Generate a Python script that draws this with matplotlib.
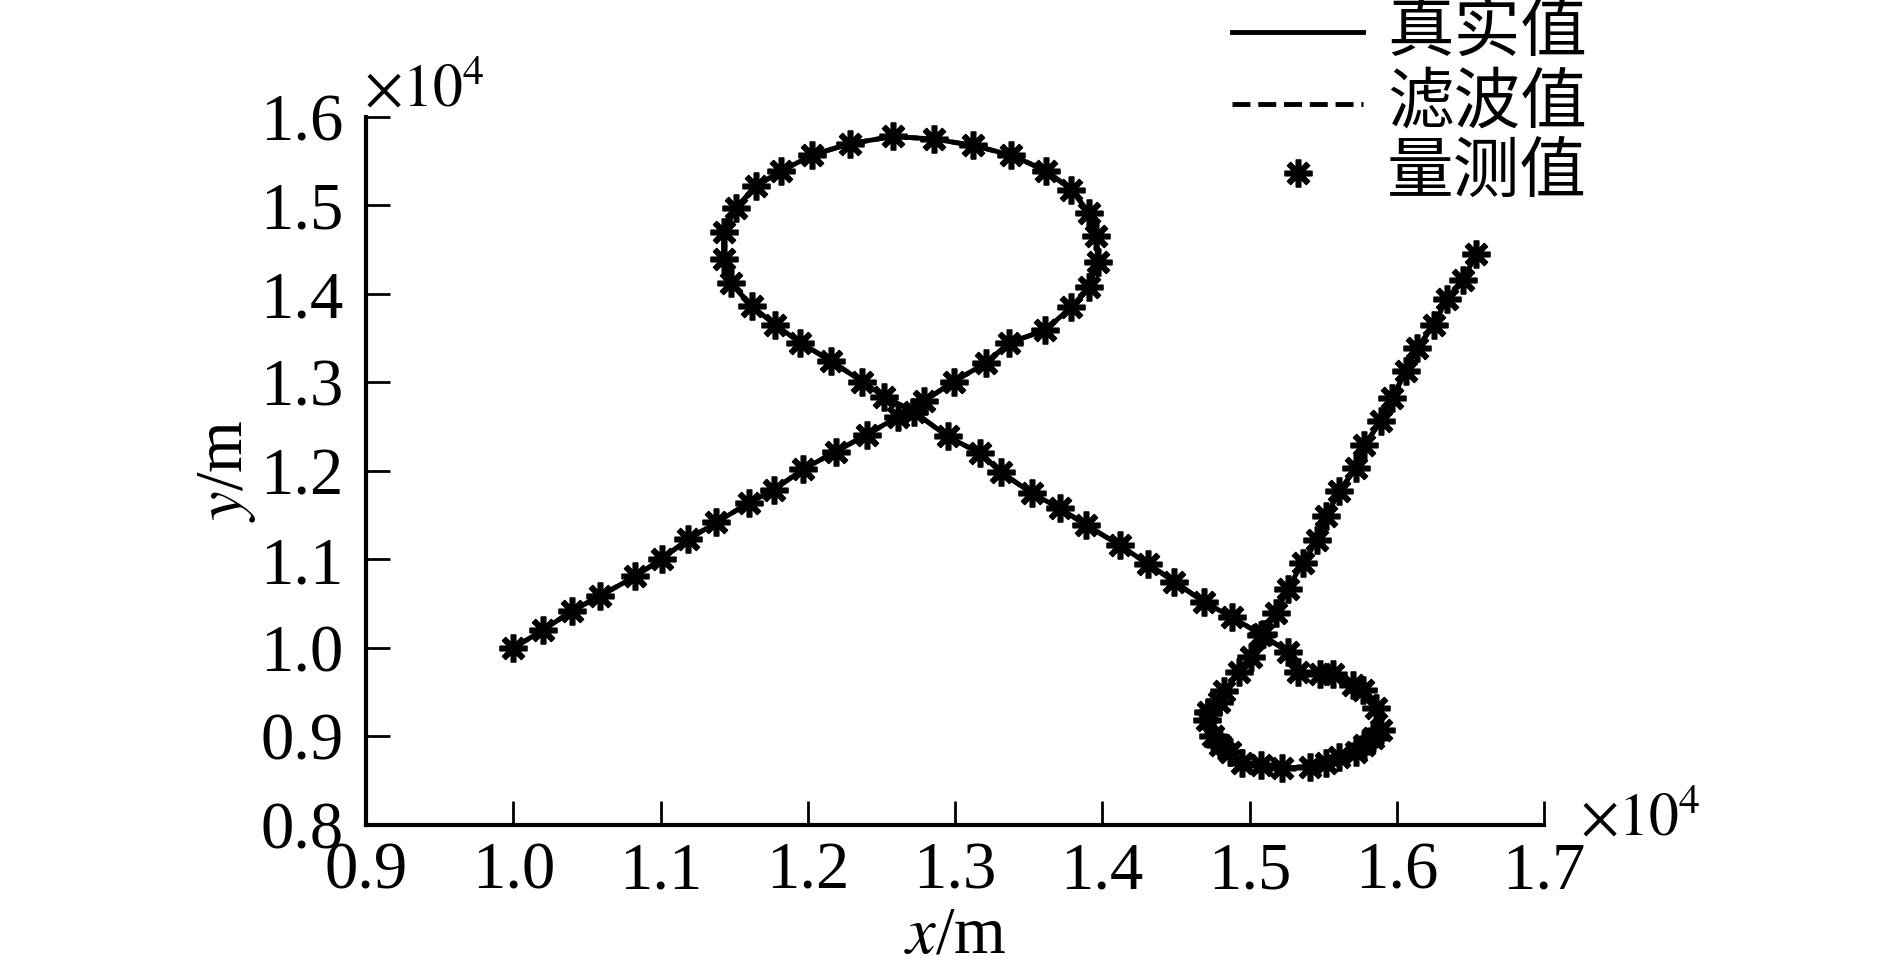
import matplotlib.pyplot as plt
from matplotlib.lines import Line2D

# track coordinates (m)
x_true = [10000, 10200, 10400, 10590, 10830, 11010, 11190, 11380, 11600, 11770,
          11970, 12190, 12400, 12610, 12790, 12990, 13210, 13370, 13610, 13790,
          13910, 13970, 13960, 13910, 13790, 13620, 13380, 13120, 12860, 12580,
          12290, 12030, 11820, 11650, 11510, 11430, 11430, 11480, 11620, 11780,
          11950, 12160, 12370, 12520, 12720, 12950, 13170, 13310, 13520, 13710,
          13890, 14120, 14310, 14490, 14690, 14880, 15080, 15260, 15330, 15480,
          15570, 15700, 15770, 15860, 15890, 15840, 15780, 15720, 15610, 15520,
          15410, 15220, 15080, 14950, 14870, 14800, 14750, 14710, 14720, 14790,
          14830, 14930, 15010, 15090, 15180, 15260, 15360, 15460, 15520, 15610,
          15720, 15780, 15890, 15970, 16060, 16140, 16250, 16340, 16450, 16540]
y_true = [10000, 10200, 10420, 10590, 10810, 11010, 11230, 11420, 11640, 11790,
          12020, 12220, 12410, 12610, 12790, 13010, 13220, 13450, 13590, 13850,
          14080, 14360, 14650, 14920, 15180, 15390, 15570, 15680, 15750, 15780,
          15700, 15570, 15390, 15220, 14970, 14700, 14400, 14120, 13860, 13650,
          13450, 13240, 13010, 12840, 12670, 12390, 12200, 11990, 11750, 11580,
          11390, 11160, 10950, 10750, 10520, 10350, 10150, 9960, 9730, 9710,
          9710, 9580, 9530, 9320, 9070, 8980, 8900, 8830, 8770, 8700,
          8660, 8640, 8680, 8700, 8830, 8900, 9000, 9190, 9280, 9390,
          9510, 9730, 9900, 10160, 10390, 10670, 10960, 11220, 11490, 11770,
          12030, 12290, 12560, 12820, 13130, 13390, 13650, 13940, 14160, 14450]

# filtered estimate and measurements sit on top of the true track at this scale
x_filt, y_filt = x_true, y_true
x_meas, y_meas = x_true, y_true

x_ticks = [9000, 10000, 11000, 12000, 13000, 14000, 15000, 16000, 17000]
x_tick_labels = ["0.9", "1.0", "1.1", "1.2", "1.3", "1.4", "1.5", "1.6", "1.7"]
y_ticks = [8000, 9000, 10000, 11000, 12000, 13000, 14000, 15000, 16000]
y_tick_labels = ["0.8", "0.9", "1.0", "1.1", "1.2", "1.3", "1.4", "1.5", "1.6"]

legend_labels = ["真实值", "滤波值", "量测值"]

plt.rcParams['font.family'] = ['Liberation Serif', 'Noto Sans CJK SC']
plt.rcParams['mathtext.fontset'] = 'stix'

W, H = 1889, 964
fig = plt.figure(figsize=(W / 100, H / 100), dpi=100)
ax = fig.add_axes([366 / W, 1 - 825 / H, (1544 - 366) / W, (825 - 117) / H])

star = (8, 2, 0)
ax.plot(x_true, y_true, color='black', lw=3.5, zorder=2)
ax.plot(x_filt, y_filt, color='black', lw=3.5, ls='--', zorder=3)
ax.plot(x_meas, y_meas, ls='none', marker=star, ms=20, mew=4, color='black', zorder=4)

ax.set_xlim(9000, 17000)
ax.set_ylim(8000, 16000)
ax.set_xticks(x_ticks)
ax.set_xticklabels(x_tick_labels)
ax.set_yticks(y_ticks)
ax.set_yticklabels(y_tick_labels)

for s in ['top', 'right']:
    ax.spines[s].set_visible(False)
for s in ['left', 'bottom']:
    ax.spines[s].set_linewidth(3)

ax.tick_params(direction='in', length=17, width=2, labelsize=48)
ax.tick_params(axis='x', pad=12)
ax.tick_params(axis='y', pad=16)

ax.set_xlabel('$x$/m', fontsize=48, labelpad=2)
ax.set_ylabel('$y$/m', fontsize=48, labelpad=2)

# x10^4 multipliers
fig.text(364 / W, 1 - 106 / H, r'$\times10^{4}$', fontsize=43, va='baseline', ha='left')
fig.text(1580 / W, 1 - 835 / H, r'$\times10^{4}$', fontsize=43, va='baseline', ha='left')

# legend drawn by hand to match the reference layout
rows = [32, 104, 173]
x0, x1, xt = 1232, 1363, 1387
fig.add_artist(Line2D([x0 / W, x1 / W], [1 - rows[0] / H] * 2, transform=fig.transFigure,
                      color='black', lw=3.5))
fig.add_artist(Line2D([x0 / W, x1 / W], [1 - rows[1] / H] * 2, transform=fig.transFigure,
                      color='black', lw=3.5, ls='--'))
fig.add_artist(Line2D([(x0 + x1) / 2 / W], [1 - rows[2] / H], transform=fig.transFigure,
                      ls='none', marker=star, ms=20, mew=4, color='black'))
for r, lab in zip(rows, legend_labels):
    fig.text(xt / W, 1 - r / H, lab, fontsize=48, va='center', ha='left',
             family=['Noto Sans CJK SC'])

fig.savefig('out.png', dpi=100)
